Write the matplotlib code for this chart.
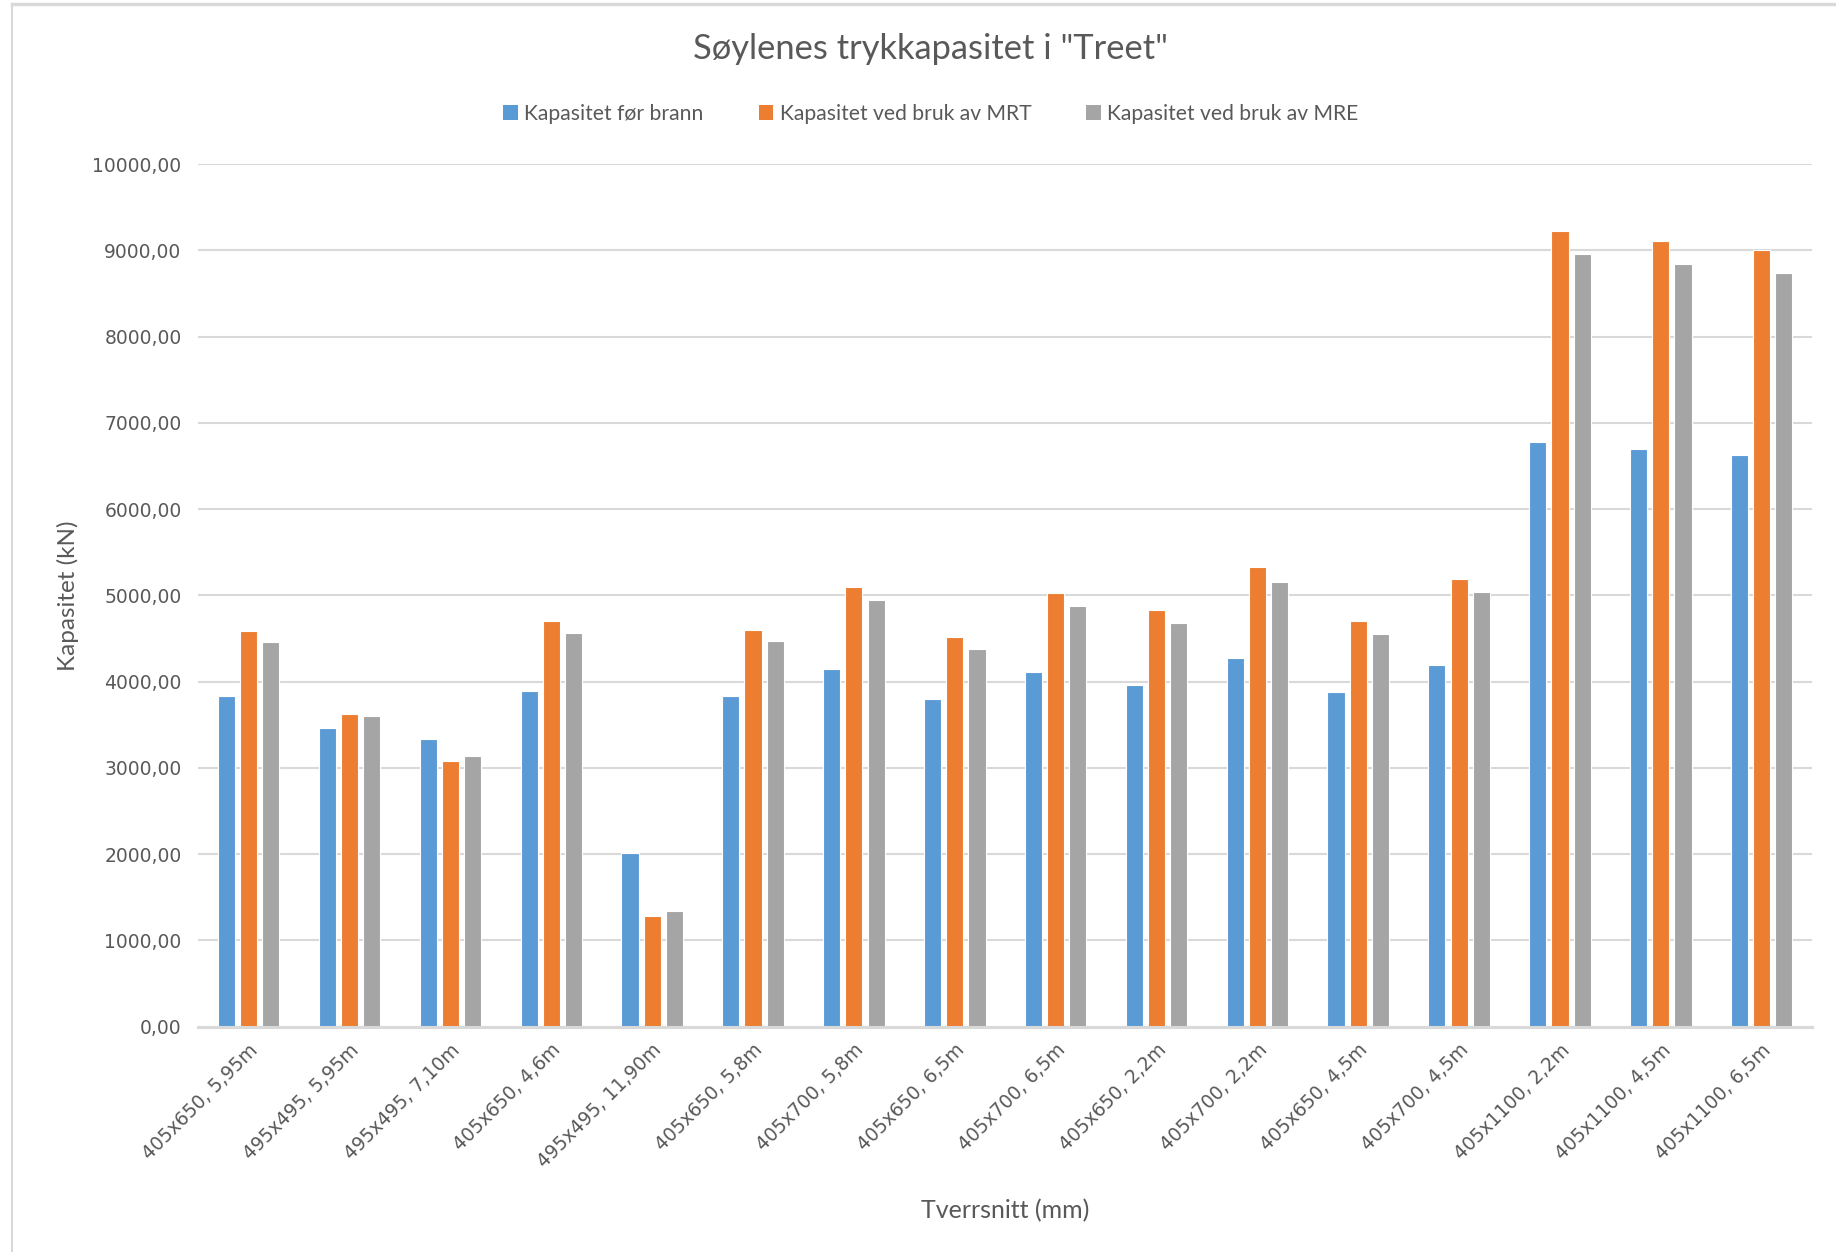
import numpy as np
import matplotlib
matplotlib.use("Agg")
import matplotlib.pyplot as plt
from matplotlib.lines import Line2D
from matplotlib.patches import Patch

categories = [
    "405x650, 5,95m", "495x495, 5,95m", "495x495, 7,10m", "405x650, 4,6m",
    "495x495, 11,90m", "405x650, 5,8m", "405x700, 5,8m", "405x650, 6,5m",
    "405x700, 6,5m", "405x650, 2,2m", "405x700, 2,2m", "405x650, 4,5m",
    "405x700, 4,5m", "405x1100, 2,2m", "405x1100, 4,5m", "405x1100, 6,5m",
]
kap_for_brann = [3834, 3466, 3336, 3888, 2015, 3837, 4142, 3797, 4110, 3963,
                 4272, 3882, 4195, 6772, 6702, 6632]
kap_mrt = [4590, 3626, 3083, 4704, 1282, 4600, 5093, 4512, 5028, 4833,
           5325, 4699, 5195, 9228, 9108, 9004]
kap_mre = [4456, 3598, 3133, 4565, 1338, 4468, 4947, 4382, 4882, 4683,
           5159, 4557, 5037, 8954, 8841, 8737]
series_names = ["Kapasitet før brann", "Kapasitet ved bruk av MRT",
                "Kapasitet ved bruk av MRE"]
yticks = [0, 1000, 2000, 3000, 4000, 5000, 6000, 7000, 8000, 9000, 10000]

colors = ["#5B9BD5", "#ED7D31", "#A5A5A5"]
text_col = "#595959"
grid_col = "#D9D9D9"

fig = plt.figure(figsize=(18.36, 12.52), dpi=100)
ax = fig.add_axes([0.108, 0.180, 0.879, 0.689])

x = np.arange(len(categories))
width = 0.17
step = 0.22
for i, (vals, col, name) in enumerate(zip([kap_for_brann, kap_mrt, kap_mre],
                                          colors, series_names)):
    ax.bar(x + (i - 1) * step, vals, width, color=col, edgecolor="white",
           linewidth=0.8, label=name, zorder=3)

ax.set_xlim(-0.5, len(categories) - 0.5)
ax.set_ylim(0, 10000)
ax.set_yticks(yticks)
ax.set_yticklabels([f"{v:.2f}".replace(".", ",") for v in yticks],
                   fontsize=13.5, color=text_col, family="DejaVu Sans")
ax.set_xticks(x)
ax.set_xticklabels(categories, rotation=45, ha="right", va="top",
                   rotation_mode="anchor", fontsize=13.5, color=text_col,
                   family="DejaVu Sans")
ax.tick_params(axis="both", length=0, pad=12)
ax.tick_params(axis="x", pad=10)

ax.yaxis.grid(True, color=grid_col, linewidth=1.5, zorder=0)
ax.set_axisbelow(True)
for s in ["top", "right", "left"]:
    ax.spines[s].set_visible(False)
ax.spines["bottom"].set_color(grid_col)
ax.spines["bottom"].set_linewidth(2.2)
ax.spines["bottom"].set_zorder(4)

ax.set_ylabel("Kapasitet (kN)", fontsize=17.5, color=text_col, family="Lato",
              labelpad=10)
ax.set_xlabel("Tverrsnitt (mm)", fontsize=18, color=text_col, family="Lato",
              labelpad=20)

fig.text(0.507, 0.961, 'Søylenes trykkapasitet i "Treet"', ha="center",
         va="center", fontsize=24.8, color=text_col, family="Lato")

handles = [Patch(facecolor=c, edgecolor="none") for c in colors]
fig.legend(handles, series_names, loc="center", bbox_to_anchor=(0.507, 0.909),
           ncol=3, frameon=False, handlelength=0.7,
           handleheight=0.7, handletextpad=0.3, columnspacing=2.6,
           prop={"family": "Lato", "size": 15.2}, labelcolor=text_col)

# light frame around the chart area
fig.add_artist(Line2D([0.0065, 0.0065], [0.0, 0.997], color=grid_col,
                      linewidth=1.5, transform=fig.transFigure))
fig.add_artist(Line2D([0.0065, 1.0], [0.997, 0.997], color=grid_col,
                      linewidth=2.5, transform=fig.transFigure))

fig.savefig("out.png", dpi=100, facecolor="white")
